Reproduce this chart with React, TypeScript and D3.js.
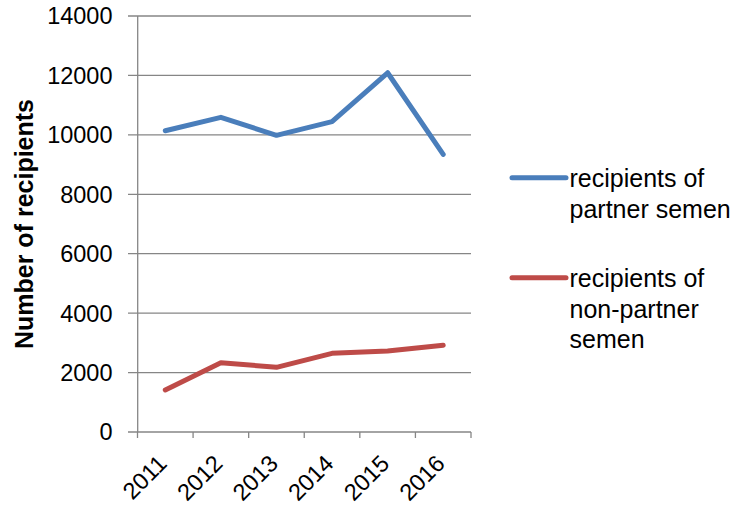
import React from "react";
import * as d3 from "d3";

const years = ["2011", "2012", "2013", "2014", "2015", "2016"];
const partnerSemen = [10140, 10590, 9985, 10445, 12090, 9345];
const nonPartnerSemen = [1414, 2333, 2177, 2648, 2726, 2918];
const yTicks = [0, 2000, 4000, 6000, 8000, 10000, 12000, 14000];
const seriesNames = [["recipients of", "partner semen"], ["recipients of", "non-partner", "semen"]];
const colors = ["#4A7EBB", "#BE4B48"];

const W = 736, H = 506;
const FONT = "'Liberation Sans', Arial, sans-serif";

export default function App() {
  const x = d3.scaleBand<string>().domain(years).range([137.5, 471]).padding(0);
  const y = d3.scaleLinear().domain([0, 14000]).range([432, 16]);
  const cx = (yr: string) => (x(yr) as number) + x.bandwidth() / 2;
  const line = d3.line<number>().x((_, i) => cx(years[i])).y((d) => y(d));
  const series = [partnerSemen, nonPartnerSemen];
  const grid = "#868686";
  const legendY = [177.7, 277.7];

  return (
    <svg width={W} height={H} style={{ position: "absolute", left: 0, top: 0, background: "#fff" }} fontFamily={FONT}>
      {yTicks.map((t) => (
        <g key={t}>
          <line x1={128} x2={471} y1={y(t)} y2={y(t)} stroke={grid} strokeWidth={1.3} />
          <text x={112.5} y={y(t) + 8.4} textAnchor="end" fontSize={23.5} fill="#000">{t}</text>
        </g>
      ))}
      <line x1={137.7} x2={137.7} y1={16} y2={432} stroke={grid} strokeWidth={1.3} />
      {[...years.map((yr) => x(yr) as number), 471].map((v, i) => (
        <line key={i} x1={v} x2={v} y1={432} y2={438} stroke={grid} strokeWidth={1.3} />
      ))}
      {years.map((yr) => (
        <text key={yr} transform={`translate(${cx(yr) + 3},${465}) rotate(-45)`} textAnchor="end" fontSize={23.5} fill="#000">{yr}</text>
      ))}
      <text transform={`translate(32.5,224) rotate(-90)`} textAnchor="middle" fontSize={25} fontWeight="bold" fill="#000">Number of recipients</text>
      {series.map((s, i) => (
        <path key={i} d={line(s) || ""} fill="none" stroke={colors[i]} strokeWidth={5} strokeLinejoin="round" strokeLinecap="round" />
      ))}
      {seriesNames.map((lines, i) => (
        <g key={i}>
          <line x1={512} x2={566} y1={legendY[i]} y2={legendY[i]} stroke={colors[i]} strokeWidth={5} strokeLinecap="round" />
          {lines.map((l, j) => (
            <text key={j} x={569.5} y={legendY[i] + 9.5 + j * 30.5} fontSize={25} fill="#000">{l}</text>
          ))}
        </g>
      ))}
    </svg>
  );
}
